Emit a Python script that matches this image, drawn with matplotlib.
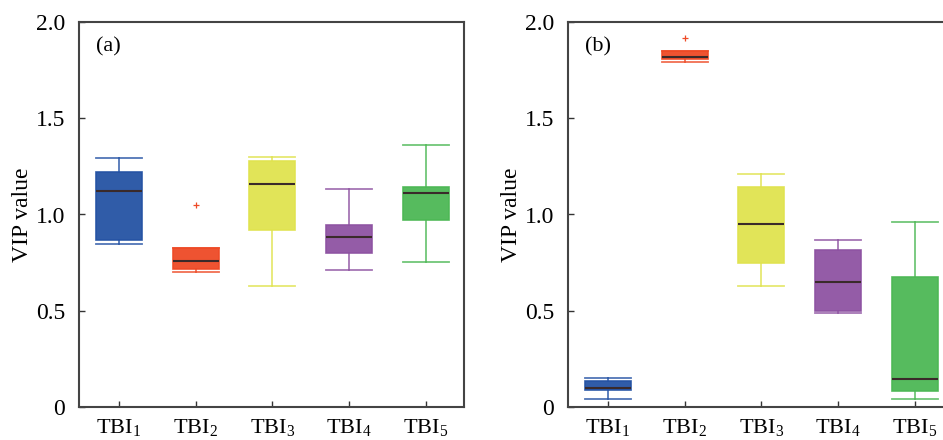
import matplotlib
matplotlib.use("Agg")
import matplotlib.pyplot as plt

plt.rcParams['font.family'] = ['Liberation Serif', 'DejaVu Serif']
plt.rcParams['mathtext.fontset'] = 'custom'
plt.rcParams['mathtext.rm'] = 'Liberation Serif'
plt.rcParams['mathtext.it'] = 'Liberation Serif'

labels = [r'TBI$_1$', r'TBI$_2$', r'TBI$_3$', r'TBI$_4$', r'TBI$_5$']
colors = ['#2553a4', '#ee4a26', '#e0e34f', '#8e53a2', '#4db855']

# panel (a): whisker low, q1, median, q3, whisker high, outliers
a_low = [0.849, 0.699, 0.631, 0.711, 0.751]
a_q1 = [0.865, 0.716, 0.917, 0.801, 0.971]
a_med = [1.123, 0.761, 1.161, 0.882, 1.111]
a_q3 = [1.220, 0.824, 1.279, 0.943, 1.144]
a_high = [1.292, 0.824, 1.301, 1.131, 1.360]
a_out = [[], [1.050], [], [], []]

# panel (b)
b_low = [0.043, 1.791, 0.631, 0.488, 0.043]
b_q1 = [0.090, 1.808, 0.747, 0.500, 0.085]
b_med = [0.100, 1.818, 0.952, 0.651, 0.144]
b_q3 = [0.135, 1.851, 1.142, 0.813, 0.676]
b_high = [0.152, 1.851, 1.209, 0.870, 0.960]
b_out = [[], [1.919], [], [], []]

yticks = [0, 0.5, 1.0, 1.5, 2.0]
yticklabels = ['0', '0.5', '1.0', '1.5', '2.0']


def draw(ax, low, q1, med, q3, high, out, tag):
    for i in range(len(labels)):
        s = dict(whislo=low[i], q1=q1[i], med=med[i], q3=q3[i],
                 whishi=high[i], fliers=out[i])
        c = colors[i]
        ax.bxp([s], positions=[i + 1], widths=0.6, capwidths=[0.6],
               patch_artist=True, showfliers=True,
               boxprops=dict(facecolor=c, edgecolor=c, linewidth=1.2, alpha=0.95),
               whiskerprops=dict(color=c, linewidth=1.3, alpha=0.8),
               capprops=dict(color=c, linewidth=1.3, alpha=0.8),
               medianprops=dict(color='#3a2a2a', linewidth=1.5),
               flierprops=dict(marker='+', markeredgecolor=c, markersize=5,
                               markeredgewidth=0.9))
    ax.set_xlim(0.48, 5.5)
    ax.set_ylim(0, 2.0)
    ax.set_xticks(range(1, len(labels) + 1))
    ax.set_xticklabels(labels, fontsize=16)
    ax.set_yticks(yticks)
    ax.set_yticklabels(yticklabels, fontsize=17)
    ax.set_ylabel('VIP value', fontsize=17, labelpad=2)
    ax.tick_params(direction='in', length=4, width=1, color='#333333')
    ax.tick_params(axis='x', pad=7)
    ax.tick_params(axis='y', pad=10)
    for sp in ax.spines.values():
        sp.set_color('#444444')
        sp.set_linewidth(1.5)
    ax.text(0.045, 0.935, tag, transform=ax.transAxes, fontsize=16,
            ha='left', va='center')


fig = plt.figure(figsize=(9.43, 4.4), dpi=100)
ax1 = fig.add_axes([79 / 943, 33 / 440, 385 / 943, 385 / 440])
ax2 = fig.add_axes([568 / 943, 33 / 440, 385 / 943, 385 / 440])

draw(ax1, a_low, a_q1, a_med, a_q3, a_high, a_out, '(a)')
draw(ax2, b_low, b_q1, b_med, b_q3, b_high, b_out, '(b)')

fig.savefig('out.png', dpi=100)
